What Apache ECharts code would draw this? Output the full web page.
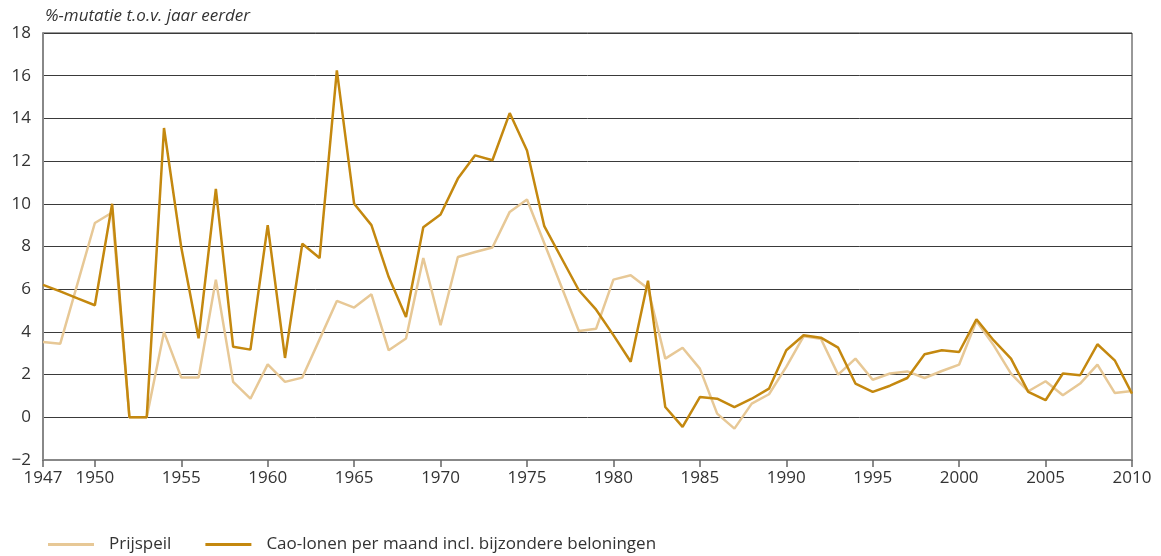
<!DOCTYPE html>
<html>
<head>
<meta charset="utf-8">
<script src="https://cdn.jsdelivr.net/npm/echarts@6/dist/echarts.min.js"></script>
<style>
html,body{margin:0;padding:0;background:#fff;}
#main{width:1161px;height:556px;}
</style>
</head>
<body>
<div id="main"></div>
<script>
// jaren 1947 t/m 2010
var years = [];
for (var y = 1947; y <= 2010; y++) { years.push(String(y)); }

var prijspeil = [
	3.53, 3.45, 6.27, 9.1, 9.59, 0.0, 0.0, 4.0, 1.86, 1.86,
	6.45, 1.66, 0.87, 2.48, 1.66, 1.86, 3.65, 5.45, 5.14, 5.76,
	3.14, 3.69, 7.46, 4.31, 7.51, 7.74, 7.95, 9.62, 10.2, 8.15,
	6.1, 4.04, 4.15, 6.45, 6.65, 6.03, 2.75, 3.26, 2.28, 0.17,
	-0.53, 0.64, 1.08, 2.36, 3.79, 3.68, 2.0, 2.75, 1.76, 2.05,
	2.15, 1.84, 2.17, 2.47, 4.51, 3.37, 2.05, 1.22, 1.69, 1.03,
	1.58, 2.47, 1.14, 1.23
];
var caoLonen = [
	6.2, 5.9, 5.57, 5.25, 10.0, 0.0, 0.0, 13.55, 7.95, 3.7,
	10.7, 3.3, 3.17, 9.0, 2.78, 8.13, 7.46, 16.25, 10.0, 9.0,
	6.57, 4.7, 8.9, 9.5, 11.18, 12.27, 12.04, 14.25, 12.5, 8.95,
	7.45, 5.95, 5.04, 3.85, 2.6, 6.4, 0.48, -0.45, 0.95, 0.87,
	0.48, 0.87, 1.34, 3.14, 3.84, 3.73, 3.26, 1.58, 1.19, 1.48,
	1.84, 2.95, 3.14, 3.06, 4.59, 3.6, 2.75, 1.19, 0.8, 2.05,
	1.97, 3.42, 2.67, 1.11
];
var namen = ["Prijspeil", "Cao-lonen per maand incl. bijzondere beloningen"];
var kleuren = ["#e7c896", "#c4880f"];

// labels: 1947 en elke vijf jaar
function toonJaar(idx, val) {
	var j = parseInt(val, 10);
	return j === 1947 || j % 5 === 0;
}

var chart = echarts.init(document.getElementById('main'));
var option = {
	animation: false,
	textStyle: { fontFamily: 'Open Sans', color: '#333' },
	title: {
		text: '%-mutatie t.o.v. jaar eerder',
		left: 40, top: 3,
		textStyle: { fontFamily: 'Open Sans', fontStyle: 'italic', fontWeight: 'normal', fontSize: 17, color: '#333' }
	},
	grid: {
		left: 43, right: 29, top: 33, bottom: 96,
		show: true, borderColor: '#333', borderWidth: 1
	},
	legend: {
		left: 43, bottom: -2,
		itemWidth: 46, itemHeight: 3, itemGap: 34,
		icon: 'rect',
		textStyle: { fontSize: 17, color: '#333', padding: [0, 0, 0, 10] },
		data: namen
	},
	xAxis: {
		type: 'category',
		data: years,
		boundaryGap: false,
		axisLine: { onZero: false, lineStyle: { color: '#888', width: 2 } },
		axisTick: { interval: toonJaar, length: 7, lineStyle: { color: '#666', width: 1.5 } },
		axisLabel: { interval: toonJaar, fontSize: 17, color: '#333', margin: 10 },
		splitLine: { show: false }
	},
	yAxis: {
		type: 'value',
		min: -2, max: 18, interval: 2,
		axisLine: { show: true, lineStyle: { color: '#888', width: 2 } },
		axisTick: { show: false },
		axisLabel: {
			fontSize: 17, color: '#333', margin: 12,
			formatter: function (v) { return String(v).replace('-', '\u2212'); }
		},
		splitLine: { lineStyle: { color: '#3a3a3a', width: 1 } }
	},
	series: [
		{
			name: namen[0], type: 'line', data: prijspeil,
			symbol: 'none', lineStyle: { color: kleuren[0], width: 2.5 },
			itemStyle: { color: kleuren[0] }
		},
		{
			name: namen[1], type: 'line', data: caoLonen,
			symbol: 'none', lineStyle: { color: kleuren[1], width: 2.5 },
			itemStyle: { color: kleuren[1] }
		}
	]
};
chart.setOption(option);
</script>
</body>
</html>
